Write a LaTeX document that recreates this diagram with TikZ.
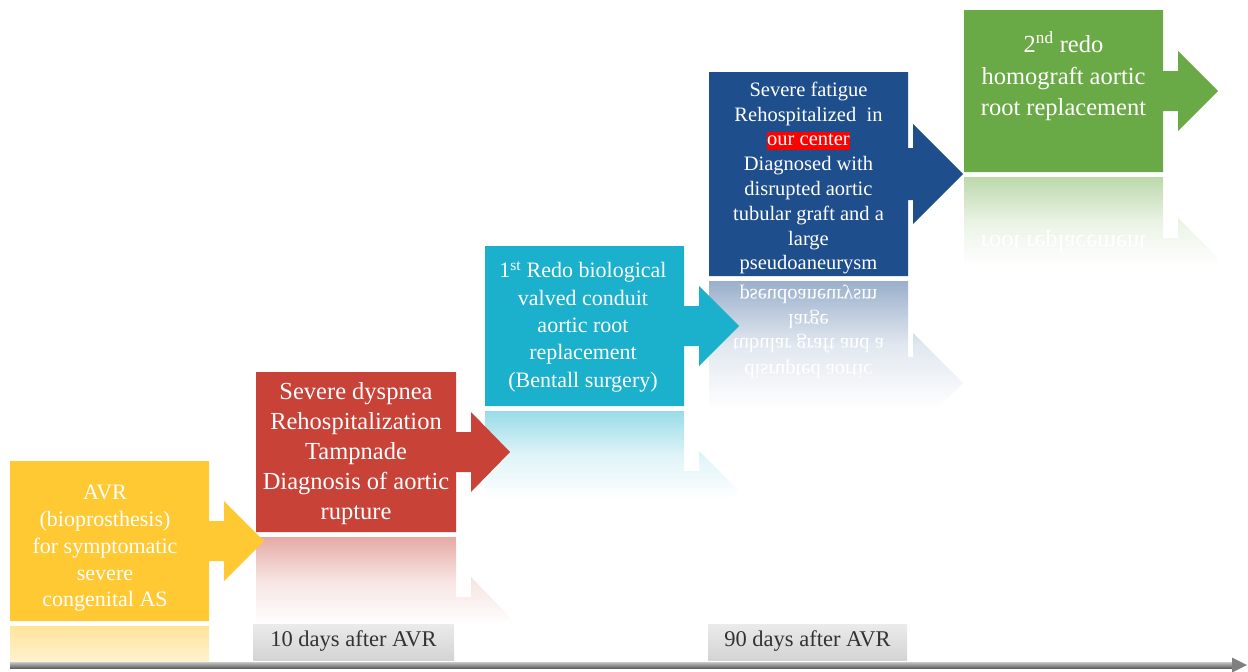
\documentclass[tikz,border=0pt]{standalone}
\usepackage{fontspec}
\setmainfont{Liberation Serif}
\usepackage{graphicx}
\usetikzlibrary{arrows.meta}
\definecolor{cY}{RGB}{255,201,52}
\definecolor{cR}{RGB}{200,66,56}
\definecolor{cC}{RGB}{27,176,203}
\definecolor{cB}{RGB}{31,78,140}
\definecolor{cG}{RGB}{106,170,70}
% box + stem + head outline, y measured downward in px
% #1 x0, #2 x1, #3 top, #4 bottom, #5 head base x, #6 tip x, #7 centre y, #8 stem half, #9 head half
\newcommand\StepPath[9]{(#1,-#3) -- (#2,-#3) -- (#2,{-(#7-#8)}) -- (#5,{-(#7-#8)}) -- (#5,{-(#7-#9)}) -- (#6,-#7) -- (#5,{-(#7+#9)}) -- (#5,{-(#7+#8)}) -- (#2,{-(#7+#8)}) -- (#2,-#4) -- (#1,-#4) -- cycle}
\tikzset{
  txt/.style={anchor=north, inner sep=0pt, align=center, text=white},
  mirtext/.style={inner sep=0pt, text=white},
  lbl/.style={rectangle, minimum height=36pt, inner sep=0pt, top color=black!8, bottom color=black!17,
    text=black!80, font=\fontsize{22.5}{27}\selectfont, text height=1.1em, text depth=0.12em},
}
\begin{document}
\begin{tikzpicture}[x=1pt,y=1pt]
\useasboundingbox (0,0) rectangle (1248,-672);

% ---------- reflections ----------
\begin{scope}
  \clip \StepPath{964}{1163}{177}{339}{1178}{1218}{258}{20}{40};
  \shade[top color=cG!45, bottom color=white, middle color=cG!14] (964,-177) rectangle (1218,-266);
  \node[mirtext, font=\fontsize{24.5}{31.5}\selectfont] (mg1) at (1063.5,-241) {\scalebox{1}[-1]{root replacement}};
\end{scope}
\begin{scope}
  \clip \StepPath{709}{908}{281}{485}{913}{963}{383}{26}{50};
  \shade[top color=cB!45, bottom color=white, middle color=cB!13] (709,-281) rectangle (963,-410);
  \node[mirtext, font=\fontsize{20.5}{24.8}\selectfont] (mb1) at (808.5,-294) {\scalebox{1}[-1]{pseudoaneurysm}};
  \node[mirtext, font=\fontsize{20.5}{24.8}\selectfont] (mb2) at (808.5,-319) {\scalebox{1}[-1]{large}};
  \node[mirtext, font=\fontsize{20.5}{24.8}\selectfont] (mb3) at (808.5,-344) {\scalebox{1}[-1]{tubular graft and a}};
  \node[mirtext, font=\fontsize{20.5}{24.8}\selectfont] (mb4) at (808.5,-369) {\scalebox{1}[-1]{disrupted aortic}};
\end{scope}
\begin{scope}
  \clip \StepPath{485}{684}{411}{571}{699}{739}{491}{20}{40};
  \shade[top color=cC!45, bottom color=white, middle color=cC!14] (485,-411) rectangle (739,-499);
\end{scope}
\begin{scope}
  \clip \StepPath{256}{456}{537}{697}{471}{510}{617}{20}{40};
  \shade[top color=cR!45, bottom color=white, middle color=cR!14] (256,-537) rectangle (510,-625);
\end{scope}
\begin{scope}
  \clip (0,-626) rectangle (300,-661);
  \clip \StepPath{10}{209}{626}{786}{224}{264}{706}{20}{40};
  \shade[top color=cY!50, bottom color=white, middle color=cY!18] (10,-626) rectangle (264,-714);
\end{scope}

% ---------- time labels ----------
\node[lbl, minimum width=201pt] (l1) at (353.5,-642) {10 days after AVR};
\node[lbl, minimum width=199pt] (l2) at (807.5,-642) {90 days after AVR};

% ---------- steps ----------
\fill[cY] \StepPath{10}{209}{461}{621}{224}{264}{541}{20}{40};
\fill[cR] \StepPath{256}{456}{372}{532}{471}{510}{452}{20}{40};
\fill[cC] \StepPath{485}{684}{246}{406}{699}{739}{326}{20}{40};
\fill[cB] \StepPath{709}{908}{72}{276}{913}{963}{174}{26}{50};
\fill[cG] \StepPath{964}{1163}{10}{172}{1178}{1218}{91}{20}{40};

\node[txt, font=\fontsize{22}{26.8}\selectfont] (t1) at (105,-480.8)
  {\strut AVR\\(bioprosthesis)\\for symptomatic\\severe\\congenital AS};
\node[txt, font=\fontsize{24.5}{30}\selectfont] (t2) at (356,-378.4)
  {\strut Severe dyspnea\\Rehospitalization\\Tampnade\\Diagnosis of aortic\\rupture};
\node[txt, font=\fontsize{22}{27.4}\selectfont] (t3) at (583,-258.4)
  {\strut 1\textsuperscript{st} Redo biological\\valved conduit\\aortic root\\replacement\\(Bentall surgery)};
\node[txt, font=\fontsize{20.5}{24.8}\selectfont] (t4) at (808.5,-78.8)
  {\strut Severe fatigue\\Rehospitalized\ \ in\\{\setlength{\fboxsep}{0pt}\colorbox{red}{\rule[-0.2em]{0pt}{0.9em}our center}}\\Diagnosed with\\disrupted aortic\\tubular graft and a\\large\\pseudoaneurysm};
\node[txt, font=\fontsize{24.5}{31.5}\selectfont] (t5) at (1063.5,-30.4)
  {\strut 2\textsuperscript{nd} redo\\homograft aortic\\root replacement};

% ---------- time axis ----------
\coordinate (ax0) at (10,-665);
\coordinate (ax1) at (1247,-665);
\shade[top color=black!22, bottom color=black!62] ([yshift=3pt]ax0) rectangle ([xshift=-15pt,yshift=-3pt]ax1);
\fill[black!50] ([xshift=-15pt,yshift=7.5pt]ax1) -- (ax1) -- ([xshift=-15pt,yshift=-7.5pt]ax1) -- cycle;
\end{tikzpicture}
\end{document}
